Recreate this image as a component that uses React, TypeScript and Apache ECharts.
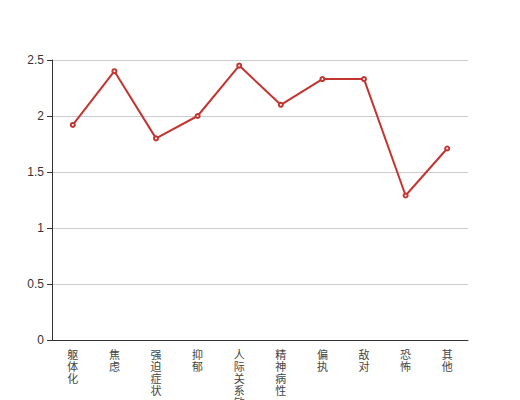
import React, { useEffect, useRef } from "react";
import * as echarts from "echarts";

const categories = ["躯体化", "焦虑", "强迫症状", "抑郁", "人际关系敏感", "精神病性", "偏执", "敌对", "恐怖", "其他"];
const values = [1.92, 2.4, 1.8, 2.0, 2.45, 2.1, 2.33, 2.33, 1.29, 1.71];

export default function App() {
  const ref = useRef<HTMLDivElement>(null);
  useEffect(() => {
    const chart = echarts.init(ref.current!, null, { renderer: "svg" });
    chart.setOption({
      animation: false,
      grid: { left: 52, right: 52, top: 60, bottom: 60, containLabel: false, outerBoundsMode: "none" },
      xAxis: {
        type: "category",
        data: categories,
        axisLine: { lineStyle: { color: "#333" } },
        axisTick: { lineStyle: { color: "#333" } },
        axisLabel: {
          color: "#444",
          fontSize: 11,
          lineHeight: 12,
          fontFamily: "Noto Sans CJK SC",
          interval: 0,
          formatter: (v: string) => v.split("").join("\n"),
        },
      },
      yAxis: {
        type: "value",
        min: 0,
        max: 2.5,
        interval: 0.5,
        axisLine: { show: true, lineStyle: { color: "#333" } },
        axisTick: { show: true, lineStyle: { color: "#333" } },
        axisLabel: { color: "#333", fontSize: 12, fontFamily: "sans-serif" },
        splitLine: { lineStyle: { color: "#ccc" } },
      },
      series: [
        {
          type: "line",
          data: values,
          symbol: "emptyCircle",
          symbolSize: 4,
          itemStyle: { color: "#c23531" },
          lineStyle: { width: 2, color: "#c23531" },
        },
      ],
    });
    return () => chart.dispose();
  }, []);
  return <div ref={ref} style={{ width: 520, height: 400, position: "absolute", left: 0, top: 0 }} />;
}
